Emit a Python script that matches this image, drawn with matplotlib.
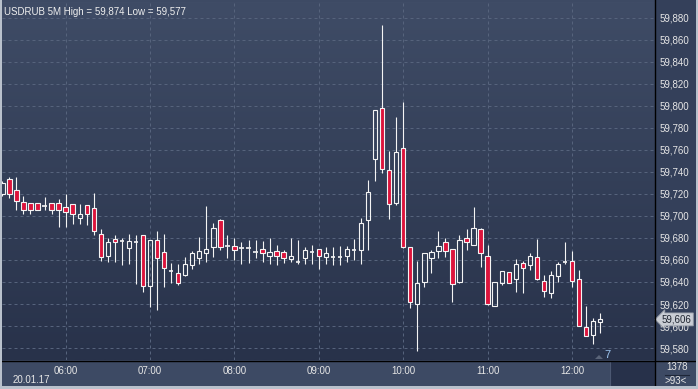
import numpy as np
import pandas as pd
import matplotlib
matplotlib.use("Agg")
import matplotlib.pyplot as plt
from matplotlib.patches import Rectangle, Polygon

plt.rcParams['font.family'] = ['Liberation Sans', 'DejaVu Sans']

# 5 minute USDRUB candles, 20.01.17 05:15 .. 12:20
opens = [59720, 59734, 59724, 59713, 59712, 59712, 59709, 59712, 59712, 59708,
         59711, 59698, 59710, 59707, 59684, 59664, 59679, 59677, 59671, 59676,
         59683, 59636, 59678, 59667, 59650, 59648, 59646, 59655, 59662, 59666,
         59672, 59696, 59673, 59673, 59671, 59671, 59667, 59670, 59664, 59668,
         59667, 59661, 59658, 59662, 59667, 59670, 59663, 59663, 59663, 59664,
         59669, 59669, 59696, 59752, 59798, 59742, 59712, 59762, 59672, 59620,
         59640, 59662, 59668, 59676, 59670, 59640, 59680, 59674, 59688, 59664,
         59618, 59639, 59649, 59643, 59657, 59655, 59663, 59641, 59630, 59645,
         59658, 59659, 59643, 59599, 59592, 59604]
highs = [59732, 59735, 59735, 59718, 59712, 59712, 59717, 59712, 59715, 59720,
         59711, 59711, 59710, 59721, 59688, 59680, 59683, 59680, 59684, 59683,
         59683, 59678, 59686, 59684, 59657, 59656, 59663, 59668, 59681, 59709,
         59694, 59697, 59683, 59680, 59676, 59678, 59678, 59677, 59680, 59674,
         59669, 59680, 59678, 59672, 59674, 59670, 59672, 59672, 59673, 59673,
         59679, 59698, 59733, 59796, 59874, 59759, 59790, 59804, 59672, 59659,
         59666, 59669, 59686, 59680, 59670, 59683, 59688, 59708, 59689, 59674,
         59640, 59650, 59649, 59661, 59659, 59666, 59679, 59646, 59650, 59658,
         59676, 59668, 59651, 59618, 59607, 59612]
lows = [59718, 59716, 59705, 59702, 59702, 59705, 59705, 59702, 59690, 59690,
        59693, 59693, 59692, 59683, 59659, 59658, 59658, 59655, 59656, 59638,
        59631, 59617, 59615, 59635, 59639, 59637, 59645, 59652, 59656, 59658,
        59663, 59669, 59662, 59660, 59656, 59657, 59662, 59658, 59656, 59655,
        59657, 59658, 59656, 59656, 59656, 59652, 59656, 59655, 59655, 59658,
        59660, 59656, 59669, 59732, 59739, 59697, 59710, 59671, 59616, 59577,
        59635, 59648, 59662, 59663, 59622, 59639, 59669, 59674, 59654, 59619,
        59618, 59637, 59639, 59631, 59630, 59651, 59642, 59626, 59625, 59640,
        59656, 59635, 59600, 59591, 59584, 59594]
closes = [59730, 59720, 59714, 59705, 59705, 59705, 59709, 59705, 59705, 59704,
          59702, 59702, 59702, 59686, 59663, 59676, 59676, 59677, 59677, 59676,
          59636, 59678, 59662, 59653, 59650, 59639, 59656, 59666, 59668, 59670,
          59689, 59672, 59673, 59669, 59671, 59671, 59667, 59666, 59667, 59664,
          59662, 59664, 59658, 59669, 59667, 59664, 59666, 59663, 59663, 59670,
          59669, 59694, 59722, 59796, 59743, 59711, 59758, 59672, 59622, 59639,
          59666, 59667, 59673, 59668, 59638, 59678, 59676, 59689, 59666, 59620,
          59640, 59650, 59639, 59656, 59653, 59664, 59643, 59632, 59646, 59656,
          59658, 59641, 59600, 59591, 59605, 59606]

times = pd.date_range("2017-01-20 05:15", periods=len(opens), freq="5min")
price_ticks = list(range(59580, 59881, 20))

o = np.array(opens) / 1000
h = np.array(highs) / 1000
l = np.array(lows) / 1000
c = np.array(closes) / 1000
idx = np.arange(len(o))

W, H = 698, 389
bg_top, bg_bot = "#3f4c66", "#28324a"
strip = "#3d4a64"
red = "#dc143c"
wht = "#f4f4f4"

fig = plt.figure(figsize=(W / 100, H / 100), dpi=100, facecolor=strip)

# pixel box of the plot area
x0, x1, y0, y1 = 2, 655, 2, 360
ax = fig.add_axes([x0 / W, 1 - y1 / H, (x1 - x0) / W, (y1 - y0) / H])
ax.set_xlim(-0.05, 92.8)
ax.set_ylim(59.5691, 59.8945)

grad = np.linspace(0, 1, 256).reshape(-1, 1)
cmap = matplotlib.colors.LinearSegmentedColormap.from_list("bg", [bg_top, bg_bot])
ax.imshow(grad, cmap=cmap, aspect="auto", extent=[0, 1, 0, 1], transform=ax.transAxes, zorder=0)

# grid
for p in price_ticks:
    ax.axhline(p / 1000, color="#56637c", lw=0.72, ls=(0, (3, 3)), zorder=1)
hour_pos = [i for i, t in enumerate(times) if t.minute == 0]
hour_lab = [times[i].strftime("%H:%M") for i in hour_pos]
for i in hour_pos:
    ax.axvline(i, color="#56637c", lw=0.72, ls=(0, (3, 3)), zorder=1)

# candles
bw = 0.62
up = c > o
dn = c < o
top = np.maximum(o, c)
bot = np.minimum(o, c)
ax.vlines(idx, top, h, color=wht, lw=0.8, zorder=3)
ax.vlines(idx, l, bot, color=wht, lw=0.8, zorder=3)
ax.bar(idx[dn], (top - bot)[dn], bw, bottom=bot[dn], color=red, edgecolor=wht, lw=0.8, zorder=4)
ax.bar(idx[up], (top - bot)[up], bw, bottom=bot[up], facecolor="none", edgecolor=wht, lw=0.8, zorder=4)
flat = c == o
ax.hlines(c[flat], idx[flat] - bw / 2, idx[flat] + bw / 2, color=wht, lw=1.2, zorder=4)

for s in ax.spines.values():
    s.set_visible(False)

ax.yaxis.tick_right()
ax.set_yticks([p / 1000 for p in price_ticks])
ax.set_yticklabels([f"{p / 1000:.3f}".replace(".", ",") for p in price_ticks])
ax.set_xticks(hour_pos)
ax.set_xticklabels(hour_lab)
ax.tick_params(axis="y", length=0, pad=3, labelsize=7, labelcolor="#e6e6e6")
ax.tick_params(axis="x", length=0, pad=4, labelsize=7, labelcolor="#e6e6e6")

# right strip background
fig.patches.append(Rectangle((x1 / W, 1 - y1 / H), (W - x1) / W, y1 / H, transform=fig.transFigure,
                             facecolor="#34405a", zorder=-1))
fig.patches.append(Rectangle((610 / W, 1 - 386 / H), 45 / W, 25 / H, transform=fig.transFigure,
                             facecolor="#27314a", edgecolor="#4c5872", lw=0.8, zorder=1))

ax.text(0.003, 0.985, "USDRUB 5M High = 59,874 Low = 59,577", transform=ax.transAxes,
        ha="left", va="top", fontsize=7, color="#eeeeee", zorder=6)

# last price marker
last = closes[-1]
ax.annotate(f"{last / 1000:.3f}".replace(".", ","), xy=(1.0, last / 1000), xycoords=("axes fraction", "data"),
            xytext=(5, 0), textcoords="offset points", ha="left", va="center", fontsize=7,
            color="#1e2430", annotation_clip=False, zorder=10,
            bbox=dict(boxstyle="larrow,pad=0.15", fc="#c9cdd4", ec="#9aa0aa", lw=0.6))

fig.text(13 / W, 1 - 380 / H, "20.01.17", ha="left", va="center", fontsize=7, color="#e6e6e6")
fig.text(607 / W, 1 - 355 / H, "7", ha="center", va="center", fontsize=8, color="#9cc4ee")
fig.patches.append(Polygon([(595 / W, 1 - 359 / H), (599 / W, 1 - 355 / H), (603 / W, 1 - 359 / H)],
                           closed=True, transform=fig.transFigure, facecolor="#5a6478", zorder=2))
fig.text(677 / W, 1 - 367 / H, "1378", ha="center", va="center", fontsize=7, color="#e6e6e6")
fig.lines.append(plt.Line2D([665 / W, 689 / W], [1 - 374.5 / H] * 2, transform=fig.transFigure,
                            color="#1e2638", lw=0.8))
fig.text(675.5 / W, 1 - 380.5 / H, ">93<", ha="center", va="center", fontsize=7, color="#e6e6e6")

# frame lines and outer border
fig.lines.append(plt.Line2D([x1 / W, x1 / W], [1 - 386 / H, 1], transform=fig.transFigure, color="black", lw=1))
fig.lines.append(plt.Line2D([0, 1], [1 - 360.5 / H] * 2, transform=fig.transFigure, color="black", lw=1))
for r in [(0, 0, 2 / W, 1), (0, 0, 1, 3 / H), (1 - 2 / W, 0, 2 / W, 1)]:
    fig.patches.append(Rectangle(r[:2], r[2], r[3], transform=fig.transFigure, facecolor="#b9c1cc", zorder=3))

fig.savefig("out.png", dpi=100, facecolor=fig.get_facecolor())
